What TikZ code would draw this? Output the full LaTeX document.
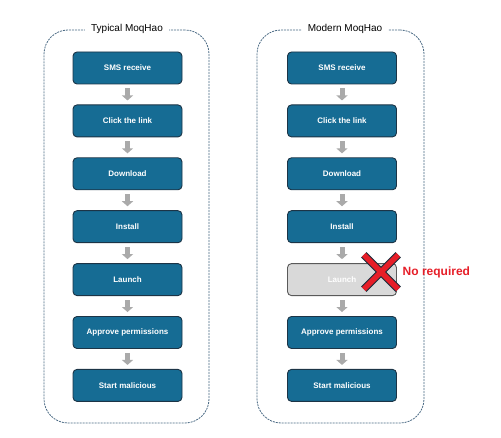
\documentclass[tikz,border=0pt]{standalone}
\usepackage{fontspec}
\setmainfont{Liberation Sans}
\usetikzlibrary{arrows.meta, positioning}
\definecolor{stepblue}{RGB}{22, 108, 148}
\definecolor{stepborder}{RGB}{28, 52, 70}
\definecolor{framegray}{RGB}{72, 104, 130}
\definecolor{arrowgray}{RGB}{170, 170, 170}
\definecolor{skipgray}{RGB}{217, 217, 217}
\definecolor{skipborder}{RGB}{90, 90, 90}
\definecolor{crossred}{RGB}{230, 30, 40}
\tikzset{
  stepbox/.style={draw=stepborder, line width=0.9pt, fill=stepblue, rounded corners=4pt,
    minimum width=109pt, minimum height=32pt, text=white, font=\fontsize{8}{10}\selectfont\bfseries},
  skipbox/.style={stepbox, draw=skipborder, fill=skipgray, text=white},
  framebox/.style={draw=framegray, dash pattern=on 2pt off 1pt, line width=0.8pt, rounded corners=24pt},
  framelabel/.style={fill=white, inner xsep=6pt, font=\fontsize{10}{12}\selectfont},
  downarrow/.style={-{Triangle[length=5pt, width=11pt]}, line width=5pt, arrowgray,
    shorten <=4pt, shorten >=4pt}
}
\begin{document}
\begin{tikzpicture}[x=1pt, y=-1pt]
    \useasboundingbox (0,0) rectangle (501,438);
    % Rahmen
    \node (leftframe) [framebox, minimum width=165pt, minimum height=393pt] at (126.5,226.5) {};
    \node (rightframe) [framebox, minimum width=167pt, minimum height=393pt] at (340.5,226.5) {};
    \node (lefttitle) [framelabel] at (127,29) {Typical MoqHao};
    \node (righttitle) [framelabel] at (345,29) {Modern MoqHao};
    % Typical MoqHao
    \node (l1) [stepbox] at (127.5,68) {SMS receive};
    \node (l2) [stepbox, below=20pt of l1] {Click the link};
    \node (l3) [stepbox, below=20pt of l2] {Download};
    \node (l4) [stepbox, below=20pt of l3] {Install};
    \node (l5) [stepbox, below=20pt of l4] {Launch};
    \node (l6) [stepbox, below=20pt of l5] {Approve permissions};
    \node (l7) [stepbox, below=20pt of l6] {Start malicious};
    % Modern MoqHao
    \node (r1) [stepbox] at (342,68) {SMS receive};
    \node (r2) [stepbox, below=20pt of r1] {Click the link};
    \node (r3) [stepbox, below=20pt of r2] {Download};
    \node (r4) [stepbox, below=20pt of r3] {Install};
    \node (r5) [skipbox, below=20pt of r4] {Launch};
    \node (r6) [stepbox, below=20pt of r5] {Approve permissions};
    \node (r7) [stepbox, below=20pt of r6] {Start malicious};
    % Pfeile
    \foreach \i [evaluate=\i as \j using int(\i+1)] in {1,...,6} {
      \draw[downarrow] (l\i) -- (l\j);
      \draw[downarrow] (r\i) -- (r\j);
    }
    % Kreuz
    \node (cross) [minimum size=34pt, inner sep=0pt] at (381,272) {};
    \draw[line width=7.5pt, stepborder!80!black] (cross.north west) -- (cross.south east)
      (cross.south west) -- (cross.north east);
    \draw[line width=5.5pt, crossred] (cross.north west) -- (cross.south east)
      (cross.south west) -- (cross.north east);
    \node (norequired) [right=1pt of cross, text=crossred, font=\fontsize{12}{14}\selectfont\bfseries] {No required};
\end{tikzpicture}
\end{document}
